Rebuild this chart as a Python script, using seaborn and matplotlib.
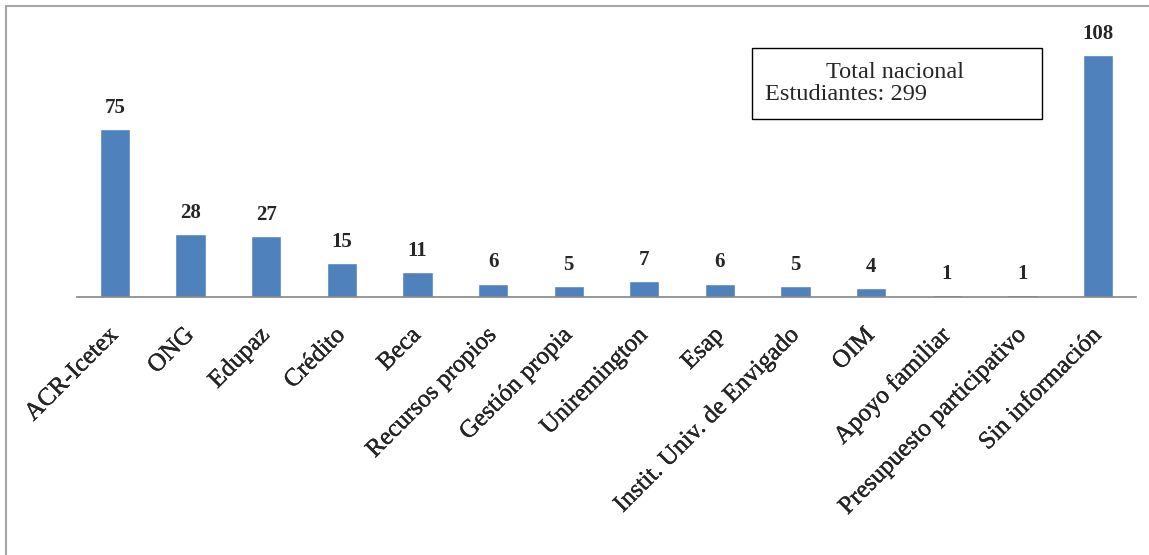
import matplotlib
matplotlib.use("Agg")
import matplotlib.pyplot as plt
import matplotlib.patheffects as pe
import seaborn as sns
import pandas as pd
from matplotlib.lines import Line2D
from matplotlib.patches import Rectangle

# datos
fuentes = ['ACR-Icetex', 'ONG', 'Edupaz', 'Crédito', 'Beca', 'Recursos propios',
           'Gestión propia', 'Uniremington', 'Esap', 'Instit. Univ. de Envigado',
           'OIM', 'Apoyo familiar', 'Presupuesto participativo', 'Sin información']
estudiantes = [75, 28, 27, 15, 11, 6, 5, 7, 6, 5, 4, 1, 1, 108]
total_texto = ['Total nacional', 'Estudiantes: 299']

sns.set_style('white')
plt.rcParams['font.family'] = ['Liberation Serif', 'DejaVu Serif']

df = pd.DataFrame({'fuente': fuentes, 'estudiantes': estudiantes})

fig = plt.figure(figsize=(11.49, 5.55), dpi=100)
ax = fig.add_axes([77 / 1149, 1 - 297 / 555, (1136 - 77) / 1149, 269 / 555])

sns.barplot(data=df, x='fuente', y='estudiantes', color='#4F81BD',
            saturation=1, width=0.4, ax=ax)

ax.set_xlim(-0.5, len(fuentes) - 0.5)
ax.set_ylim(0, 120)
ax.set_xlabel('')
ax.set_ylabel('')
ax.set_yticks([])

for side in ['top', 'right', 'left']:
    ax.spines[side].set_visible(False)
ax.spines['bottom'].set_color('#868686')
ax.spines['bottom'].set_linewidth(1.2)

# texto apenas más grueso, como el original
grueso = [pe.withStroke(linewidth=0.25, foreground='black')]

ax.tick_params(axis='x', length=0, pad=25)
for lbl in ax.get_xticklabels():
    lbl.set_rotation(45)
    lbl.set_ha('right')
    lbl.set_va('center')
    lbl.set_rotation_mode('anchor')
    lbl.set_fontsize(18)
    lbl.set_path_effects(grueso)

# etiquetas de valor
for i, v in enumerate(estudiantes):
    ax.annotate(str(v), (i, v), xytext=(0, 8), textcoords='offset points',
                ha='center', va='bottom', fontsize=15, fontweight='bold')

# cuadro de total
fig.add_artist(Rectangle((752 / 1149, 1 - 119 / 555), 290 / 1149, 71 / 555,
                         transform=fig.transFigure, fill=False,
                         edgecolor='black', linewidth=1))
fig.text(895 / 1149, 1 - 73 / 555, total_texto[0], ha='center', va='center', fontsize=17.5)
fig.text(765 / 1149, 1 - 95 / 555, total_texto[1], ha='left', va='center', fontsize=17.5)

# marco de la figura
fig.add_artist(Line2D([6 / 1149, 6 / 1149], [0, 1 - 6 / 555], color='#a6a6a6', linewidth=1.5))
fig.add_artist(Line2D([6 / 1149, 1], [1 - 6 / 555, 1 - 6 / 555], color='#a6a6a6', linewidth=1.5))

fig.savefig('out.png', dpi=100)
